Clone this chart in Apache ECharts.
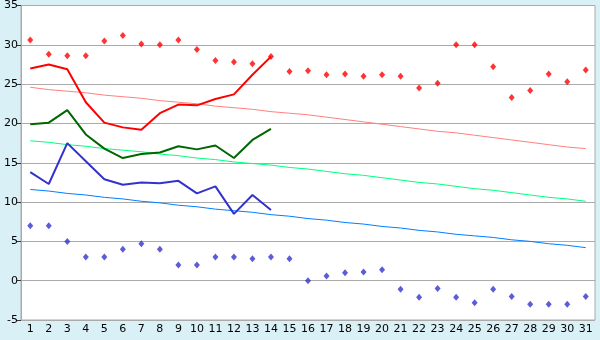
<!DOCTYPE html>
<html><head><meta charset="utf-8">
<script src="https://cdn.jsdelivr.net/npm/echarts@6/dist/echarts.min.js"></script>
<style>html,body{margin:0;padding:0;background:#daf0f7;}#c{width:600px;height:340px;}</style>
</head><body><div id="c"></div>
<script>
var days = [];
for (var i = 1; i <= 31; i++) days.push(String(i));
var yTicks = { min: -5, max: 35, interval: 5 };

var maxTemp  = [27.0, 27.5, 26.9, 22.7, 20.1, 19.5, 19.2, 21.3, 22.4, 22.3, 23.1, 23.7, 26.2, 28.5];
var meanTemp = [19.9, 20.1, 21.7, 18.6, 16.8, 15.6, 16.1, 16.3, 17.1, 16.7, 17.2, 15.6, 17.9, 19.3];
var minTemp  = [13.8, 12.3, 17.5, 15.2, 12.9, 12.2, 12.5, 12.4, 12.7, 11.1, 12.0, 8.5, 10.9, 9.0];

var normMax  = [24.6, 24.3, 24.1, 23.9, 23.6, 23.4, 23.2, 22.9, 22.7, 22.5, 22.2, 22.0, 21.8, 21.5, 21.3, 21.1,
                20.8, 20.5, 20.2, 19.9, 19.6, 19.3, 19.0, 18.8, 18.5, 18.2, 17.9, 17.6, 17.3, 17.0, 16.8];
var normMean = [17.8, 17.6, 17.3, 17.1, 16.8, 16.6, 16.4, 16.1, 15.9, 15.6, 15.4, 15.1, 14.9, 14.7, 14.4, 14.2,
                13.9, 13.6, 13.4, 13.1, 12.8, 12.5, 12.3, 12.0, 11.7, 11.5, 11.2, 10.9, 10.6, 10.4, 10.1];
var normMin  = [11.6, 11.4, 11.1, 10.9, 10.6, 10.4, 10.1, 9.9, 9.6, 9.4, 9.1, 8.9, 8.7, 8.4, 8.2, 7.9,
                7.7, 7.4, 7.2, 6.9, 6.7, 6.4, 6.2, 5.9, 5.7, 5.5, 5.2, 5.0, 4.7, 4.5, 4.2];

var recMax = [30.6, 28.8, 28.6, 28.6, 30.5, 31.2, 30.1, 30.0, 30.6, 29.4, 28.0, 27.8, 27.6, 28.5, 26.6, 26.7,
              26.2, 26.3, 26.0, 26.2, 26.0, 24.5, 25.1, 30.0, 30.0, 27.2, 23.3, 24.2, 26.3, 25.3, 26.8];
var recMin = [7.0, 7.0, 5.0, 3.0, 3.0, 4.0, 4.7, 4.0, 2.0, 2.0, 3.0, 3.0, 2.8, 3.0, 2.8, 0.0,
              0.6, 1.0, 1.1, 1.4, -1.1, -2.1, -1.0, -2.1, -2.8, -1.1, -2.0, -3.0, -3.0, -3.0, -2.0];

function line(data, color, width, z) {
  return { type: 'line', data: data, symbol: 'none', silent: true, animation: false, z: z,
           lineStyle: { color: color, width: width } };
}
function dots(data, color) {
  return { type: 'scatter', data: data, symbol: 'diamond', symbolSize: [6, 7], animation: false, z: 5,
           itemStyle: { color: color } };
}

var chart = echarts.init(document.getElementById('c'), null, { renderer: 'canvas' });
chart.setOption({
  backgroundColor: '#daf0f7',
  animation: false,
  grid: { left: 21, right: 5, top: 5, bottom: 20, show: true, backgroundColor: '#ffffff', borderColor: '#aaaaaa', borderWidth: 1 },
  xAxis: {
    type: 'category', data: days, boundaryGap: true,
    axisLine: { lineStyle: { color: '#aaaaaa' } },
    axisTick: { alignWithLabel: true, length: 4, lineStyle: { color: '#333' } },
    axisLabel: { interval: 0, color: '#000', fontFamily: 'DejaVu Sans', fontSize: 11, margin: 4 },
    splitLine: { show: false }
  },
  yAxis: {
    type: 'value', min: yTicks.min, max: yTicks.max, interval: yTicks.interval,
    axisLine: { show: true, lineStyle: { color: '#aaaaaa' } },
    axisTick: { show: true, length: 4, lineStyle: { color: '#333' } },
    axisLabel: { color: '#000', fontFamily: 'DejaVu Sans', fontSize: 11, margin: 3 },
    splitLine: { lineStyle: { color: '#aaaaaa', width: 1 } }
  },
  series: [
    line(normMax, '#ff8080', 1, 2),
    line(normMean, '#00ff80', 1, 2),
    line(normMin, '#0080ff', 1, 2),
    line(maxTemp, '#ff0000', 2, 3),
    line(meanTemp, '#006600', 2, 3),
    line(minTemp, '#3333cc', 2, 3),
    dots(recMax, '#ff0000'),
    dots(recMin, '#3333cc')
  ]
});
</script></body></html>
